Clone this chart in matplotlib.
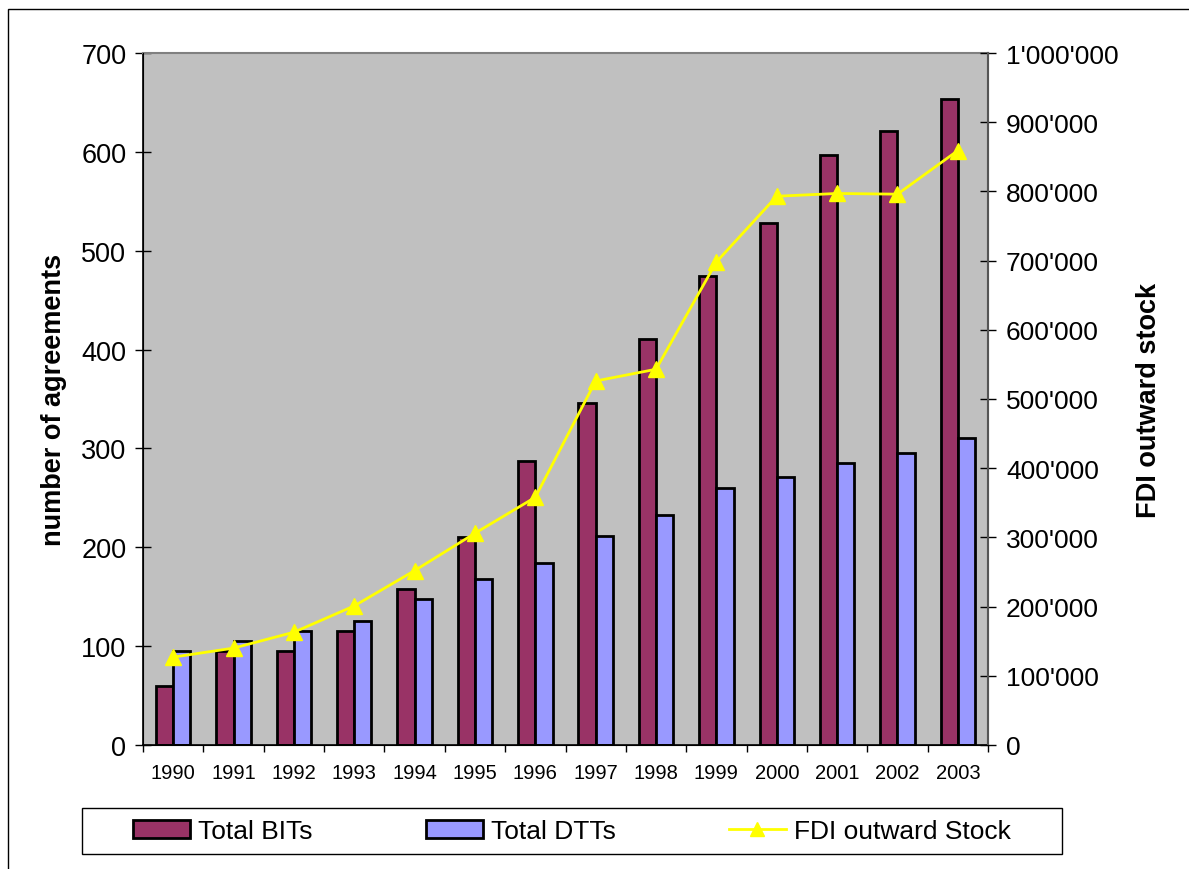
import matplotlib.pyplot as plt
import matplotlib.patches as mpatches
from matplotlib.lines import Line2D
from matplotlib.ticker import FuncFormatter, MultipleLocator
import numpy as np

plt.rcParams['font.family'] = ['Liberation Sans', 'DejaVu Sans']

years = ['1990', '1991', '1992', '1993', '1994', '1995', '1996',
         '1997', '1998', '1999', '2000', '2001', '2002', '2003']
total_bits = [60, 95, 95, 115, 158, 210, 287, 346, 411, 474, 528, 597, 621, 653]
total_dtts = [95, 105, 115, 125, 148, 168, 184, 211, 233, 260, 271, 285, 295, 311]
fdi_stock = [127000, 140000, 163000, 201000, 252000, 306000, 358000,
             526000, 543000, 698000, 793000, 797000, 796000, 859000]

fig = plt.figure(figsize=(11.89, 8.7), dpi=100)
ax = fig.add_axes([143 / 1189, 124 / 870, 845 / 1189, 692 / 870])
ax.set_facecolor('#C0C0C0')

x = np.arange(len(years))
w = 0.2857
ax.bar(x - w / 2, total_bits, w, color='#993366', edgecolor='black', linewidth=2, zorder=2)
ax.bar(x + w / 2, total_dtts, w, color='#9999FF', edgecolor='black', linewidth=2, zorder=2)
ax.set_xlim(-0.5, len(years) - 0.5)
ax.set_ylim(0, 700)
ax.yaxis.set_major_locator(MultipleLocator(100))

ax.set_xticks(x)
ax.set_xticklabels(years, fontsize=14.5)
ax.tick_params(axis='x', which='major', length=0, pad=13)
ax.set_xticks(np.arange(-0.5, len(years), 1.0), minor=True)
ax.tick_params(axis='x', which='minor', length=5, direction='out', width=1)
ax.tick_params(axis='y', labelsize=19.5, direction='inout', length=12, width=1, pad=6)

for s in ['top', 'right']:
    ax.spines[s].set_color('#808080')
    ax.spines[s].set_linewidth(1.5)
ax.spines['left'].set_linewidth(1.2)
ax.spines['bottom'].set_linewidth(1.2)

ax.set_ylabel('number of agreements', fontsize=19.5, fontweight='bold')
ax.yaxis.set_label_coords(-0.0905, 0.5)

ax2 = ax.twinx()
ax2.plot(x, fdi_stock, color='#FFFF00', linewidth=2, marker='^', markersize=12,
         markerfacecolor='#FFFF00', markeredgecolor='#FFFF00', zorder=3)
ax2.set_ylim(0, 1000000)
ax2.yaxis.set_major_locator(MultipleLocator(100000))
ax2.yaxis.set_major_formatter(FuncFormatter(lambda v, p: '{:,.0f}'.format(v).replace(',', "'")))
ax2.tick_params(axis='y', labelsize=19, direction='inout', length=12, width=1, pad=7)
ax2.spines['right'].set_color('#555555')
ax2.spines['right'].set_linewidth(1.5)
ax2.spines['top'].set_visible(False)
ax2.set_ylabel('FDI outward stock', fontsize=19.5, fontweight='bold')
ax2.yaxis.set_label_coords(1.1755, 0.5)

handles = [mpatches.Patch(facecolor='#993366', edgecolor='black', linewidth=2),
           mpatches.Patch(facecolor='#9999FF', edgecolor='black', linewidth=2),
           Line2D([], [], color='#FFFF00', linewidth=2, marker='^', markersize=10)]
fig.legend(handles, ['Total BITs', 'Total DTTs', 'FDI outward Stock'],
           loc='center', bbox_to_anchor=(572 / 1189, 38 / 870),
           ncol=3, fontsize=19, frameon=False, borderaxespad=0, borderpad=0,
           handlelength=2.15, handletextpad=0.3, columnspacing=4.3)

# legend box and outer chart border
fig.patches.append(mpatches.Rectangle((82 / 1189, 15 / 870), 980 / 1189, 46 / 870,
                                      transform=fig.transFigure, fill=False,
                                      edgecolor='black', linewidth=1))
fig.patches.append(mpatches.Rectangle((8 / 1189, -0.01), 1.0, 0.9985, transform=fig.transFigure,
                                      fill=False, edgecolor='black', linewidth=1))

fig.savefig('out.png', dpi=100)
